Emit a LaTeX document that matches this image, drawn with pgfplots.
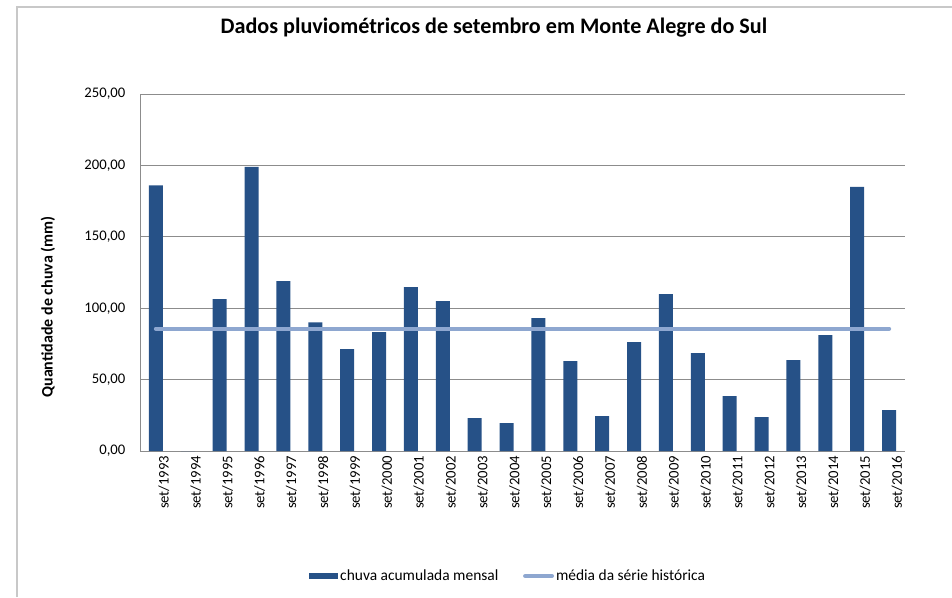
\documentclass[border=0pt]{standalone}
\usepackage{pgfplots}
\pgfplotsset{compat=1.18}
\usepackage{fontspec}
\setmainfont{Carlito}
\definecolor{barblue}{RGB}{38,81,135}
\definecolor{meanblue}{RGB}{142,167,208}
\definecolor{gridgray}{RGB}{140,140,140}
\definecolor{framegray}{RGB}{200,200,200}
\begin{document}
\begin{tikzpicture}
\useasboundingbox (0,0) rectangle (714pt,-447.75pt);
\draw[line width=1.3pt, color=framegray] (12.75pt,-447.75pt) -- (12.75pt,-5.25pt) -- (714pt,-5.25pt);
\begin{axis}[
  at={(105pt,-338.25pt)}, anchor=south west,
  scale only axis, width=573.75pt, height=267.75pt,
  xmin=-0.5, xmax=23.5, ymin=0, ymax=250,
  ytick={0,50,100,150,200,250},
  xtick={0,...,23},
  xticklabels={set/1993,set/1994,set/1995,set/1996,set/1997,set/1998,set/1999,set/2000,set/2001,set/2002,set/2003,set/2004,set/2005,set/2006,set/2007,set/2008,set/2009,set/2010,set/2011,set/2012,set/2013,set/2014,set/2015,set/2016},
  axis x line*=bottom, axis y line*=left,
  axis line style={draw=gridgray, line width=0.6pt, -},
  ymajorgrids, grid style={draw=gridgray, line width=0.6pt},
  major tick length=0pt,
  tick label style={font=\fontsize{11}{13}\selectfont},
  xticklabel style={rotate=90, anchor=east, yshift=-6pt},
  yticklabel style={xshift=-7.5pt, /pgf/number format/fixed, /pgf/number format/fixed zerofill, /pgf/number format/precision=2, /pgf/number format/use comma, /pgf/number format/1000 sep={}},
  /pgf/number format/assume math mode=true,
  legend style={at={(0.481,-0.35)}, anchor=center, draw=none, legend columns=2,
    font=\fontsize{11.6}{13}\selectfont, nodes={inner sep=1.5pt},
    /tikz/every even column/.append style={column sep=17pt}},
]
\addplot[ybar, bar width=10.5pt, fill=barblue, draw=none,
  legend image code/.code={\fill[barblue] (0pt,-2.6pt) rectangle (22pt,2.6pt);}]
  coordinates {
  (0,186.0) (1,0) (2,106.4) (3,198.9) (4,119.0) (5,90.1) (6,71.4) (7,83.3)
  (8,114.8) (9,105.0) (10,23.1) (11,19.6) (12,93.1) (13,63.0) (14,24.5)
  (15,76.3) (16,109.9) (17,68.6) (18,38.5) (19,23.8) (20,63.7) (21,81.2)
  (22,184.9) (23,28.7)};
\addlegendentry{chuva acumulada mensal}
\addplot[meanblue, line width=3.2pt, line cap=round, sharp plot, mark=none,
  legend image code/.code={\draw[meanblue, line width=3.2pt, line cap=round] (1pt,0pt) -- (21pt,0pt);}]
  coordinates {(0,85.6) (23,85.6)};
\addlegendentry{média da série histórica}
\end{axis}
\node[rotate=90, font=\bfseries\fontsize{12}{14}\selectfont] at (36pt,-230.25pt) {Quantidade de chuva (mm)};
\node[font=\bfseries\fontsize{16.6}{19}\selectfont] at (370.5pt,-21pt) {Dados pluviométricos de setembro em Monte Alegre do Sul};
\end{tikzpicture}
\end{document}
